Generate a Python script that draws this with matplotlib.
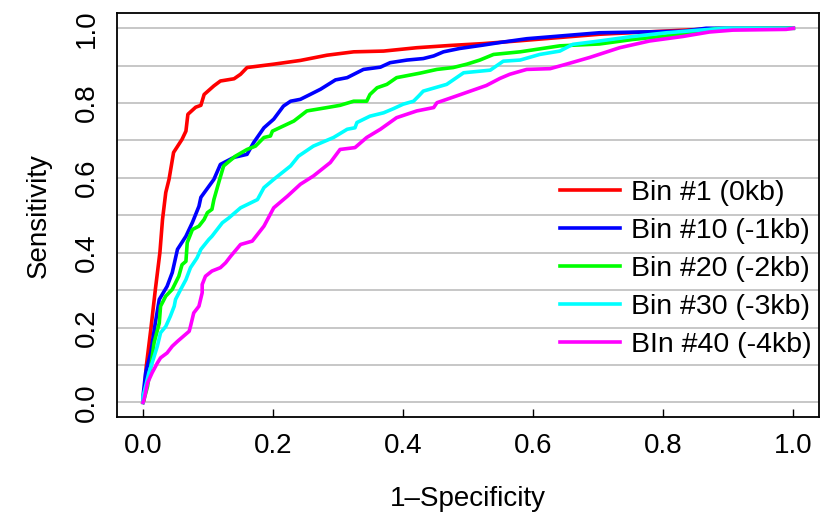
import matplotlib
matplotlib.use("Agg")
import matplotlib.pyplot as plt
import numpy as np

plt.rcParams['font.family'] = ['Liberation Sans', 'DejaVu Sans']

labels = ["Bin #1 (0kb)", "Bin #10 (-1kb)", "Bin #20 (-2kb)", "Bin #30 (-3kb)", "BIn #40 (-4kb)"]
colors = ["#FF0000", "#0000FF", "#00FF00", "#00FFFF", "#FF00FF"]

bin1_x = [0.0, 0.0015, 0.005, 0.012, 0.019, 0.026, 0.030, 0.035, 0.040, 0.047, 0.060, 0.066, 0.069, 0.081, 0.089,
          0.094, 0.109, 0.119, 0.140, 0.150, 0.160, 0.201, 0.242, 0.283, 0.324, 0.370, 0.421, 0.472, 0.523,
          0.575, 0.702, 0.856, 0.998, 1.0]
bin1_y = [0.0, 0.007, 0.096, 0.195, 0.302, 0.401, 0.489, 0.561, 0.596, 0.668, 0.703, 0.725, 0.770, 0.789, 0.794,
          0.823, 0.846, 0.859, 0.865, 0.877, 0.895, 0.904, 0.914, 0.928, 0.937, 0.939, 0.948, 0.954, 0.959,
          0.966, 0.984, 0.997, 1.0, 1.0]

bin10_x = [0.0, 0.0, 0.004, 0.012, 0.019, 0.025, 0.037, 0.045, 0.053, 0.066, 0.076, 0.086, 0.089, 0.109, 0.119,
           0.140, 0.160, 0.170, 0.186, 0.201, 0.216, 0.227, 0.242, 0.257, 0.273, 0.296, 0.314, 0.339, 0.365,
           0.380, 0.406, 0.431, 0.447, 0.462, 0.487, 0.523, 0.549, 0.590, 0.702, 0.830, 0.866, 1.0]
bin10_y = [0.0, 0.016, 0.079, 0.133, 0.213, 0.275, 0.310, 0.347, 0.409, 0.444, 0.481, 0.524, 0.548, 0.596, 0.636,
           0.655, 0.663, 0.694, 0.734, 0.757, 0.792, 0.805, 0.810, 0.823, 0.837, 0.862, 0.868, 0.890, 0.896,
           0.908, 0.915, 0.919, 0.926, 0.937, 0.946, 0.955, 0.962, 0.972, 0.988, 0.992, 1.0, 1.0]

bin20_x = [0.0, 0.0015, 0.007, 0.012, 0.017, 0.025, 0.027, 0.035, 0.045, 0.055, 0.060, 0.066, 0.068, 0.076, 0.086,
           0.094, 0.099, 0.106, 0.109, 0.117, 0.124, 0.142, 0.160, 0.173, 0.186, 0.196, 0.199, 0.232, 0.252,
           0.283, 0.303, 0.324, 0.344, 0.349, 0.360, 0.375, 0.390, 0.426, 0.452, 0.477, 0.498, 0.518, 0.539,
           0.580, 0.641, 0.702, 0.753, 0.830, 0.881, 1.0]
bin20_y = [0.0, 0.007, 0.043, 0.096, 0.159, 0.212, 0.257, 0.284, 0.302, 0.337, 0.368, 0.377, 0.427, 0.462, 0.471,
           0.489, 0.507, 0.516, 0.542, 0.591, 0.632, 0.658, 0.676, 0.685, 0.708, 0.712, 0.725, 0.752, 0.779,
           0.788, 0.794, 0.805, 0.805, 0.823, 0.841, 0.850, 0.868, 0.880, 0.890, 0.895, 0.904, 0.915, 0.930,
           0.937, 0.953, 0.958, 0.970, 0.984, 0.999, 1.0]

bin30_x = [0.0, 0.0, 0.004, 0.009, 0.014, 0.022, 0.027, 0.035, 0.042, 0.048, 0.050, 0.058, 0.066, 0.073, 0.083,
           0.089, 0.101, 0.106, 0.114, 0.122, 0.132, 0.150, 0.176, 0.186, 0.201, 0.227, 0.239, 0.262, 0.293,
           0.314, 0.326, 0.329, 0.349, 0.370, 0.385, 0.400, 0.416, 0.424, 0.431, 0.467, 0.493, 0.534, 0.554,
           0.580, 0.610, 0.641, 0.661, 0.702, 0.753, 0.805, 0.856, 0.897, 1.0]
bin30_y = [0.0, 0.016, 0.043, 0.079, 0.105, 0.150, 0.186, 0.203, 0.230, 0.257, 0.275, 0.302, 0.328, 0.360, 0.386,
           0.409, 0.435, 0.444, 0.462, 0.480, 0.493, 0.520, 0.542, 0.574, 0.596, 0.632, 0.658, 0.685, 0.708,
           0.730, 0.734, 0.748, 0.765, 0.774, 0.785, 0.797, 0.805, 0.819, 0.832, 0.850, 0.881, 0.888, 0.912,
           0.915, 0.930, 0.939, 0.957, 0.966, 0.978, 0.988, 0.995, 1.0, 1.0]

bin40_x = [0.0, 0.0015, 0.007, 0.014, 0.022, 0.027, 0.037, 0.045, 0.053, 0.071, 0.073, 0.078, 0.086, 0.091, 0.091,
           0.096, 0.106, 0.119, 0.127, 0.135, 0.150, 0.168, 0.186, 0.201, 0.222, 0.242, 0.262, 0.288, 0.303,
           0.326, 0.344, 0.365, 0.390, 0.421, 0.447, 0.452, 0.482, 0.528, 0.549, 0.564, 0.590, 0.626, 0.651,
           0.687, 0.733, 0.779, 0.830, 0.871, 0.907, 0.989, 1.0]
bin40_y = [0.0, 0.007, 0.052, 0.079, 0.105, 0.119, 0.132, 0.150, 0.163, 0.190, 0.203, 0.239, 0.257, 0.293, 0.315,
           0.337, 0.351, 0.360, 0.373, 0.391, 0.422, 0.431, 0.471, 0.520, 0.551, 0.583, 0.605, 0.641, 0.676,
           0.681, 0.708, 0.730, 0.761, 0.779, 0.788, 0.801, 0.819, 0.847, 0.866, 0.877, 0.890, 0.892, 0.904,
           0.922, 0.948, 0.966, 0.978, 0.990, 0.995, 0.997, 1.0]

series_x = [bin1_x, bin10_x, bin20_x, bin30_x, bin40_x]
series_y = [bin1_y, bin10_y, bin20_y, bin30_y, bin40_y]

x_ticks = [0.0, 0.2, 0.4, 0.6, 0.8, 1.0]
y_ticks = [0.0, 0.2, 0.4, 0.6, 0.8, 1.0]
grid_levels = [0.0, 0.1, 0.2, 0.3, 0.4, 0.5, 0.6, 0.7, 0.8, 0.9, 1.0]

fig = plt.figure(figsize=(8.22, 5.24), dpi=100)
ax = fig.add_axes([117/822, 1 - 417.3/524, (819.3 - 117)/822, (417.3 - 13.3)/524])

for g in grid_levels:
    ax.axhline(g, color="#BEBEBE", lw=1.2, zorder=1)

for xs, ys, c, lab in zip(series_x, series_y, colors, labels):
    ax.plot(xs, ys, color=c, lw=2.6, label=lab, zorder=3, solid_joinstyle='round')

ax.set_xlim(-0.04, 1.04)
ax.set_ylim(-0.04, 1.04)
ax.set_xticks(x_ticks)
ax.set_xticklabels([f"{t:.1f}" for t in x_ticks], fontsize=20)
ax.set_yticks(y_ticks)
ax.set_yticklabels([f"{t:.1f}" for t in y_ticks], fontsize=20, rotation=90, va='center')
ax.tick_params(axis='x', direction='in', length=6, width=1.0, pad=11)
ax.tick_params(axis='y', length=0, pad=12)
for s in ax.spines.values():
    s.set_linewidth(1.3)

ax.set_xlabel("1\u2013Specificity", fontsize=20, labelpad=20)
ax.set_ylabel("Sensitivity", fontsize=20, labelpad=16)

leg = ax.legend(loc='upper left', bbox_to_anchor=(560/822, 1 - 180/524), bbox_transform=fig.transFigure,
                frameon=False, fontsize=20.5, handlelength=2.1, handletextpad=0.4, labelspacing=0.42,
                borderpad=0, borderaxespad=0)
for l in leg.get_lines():
    l.set_linewidth(2.6)

fig.savefig("out.png", dpi=100)
